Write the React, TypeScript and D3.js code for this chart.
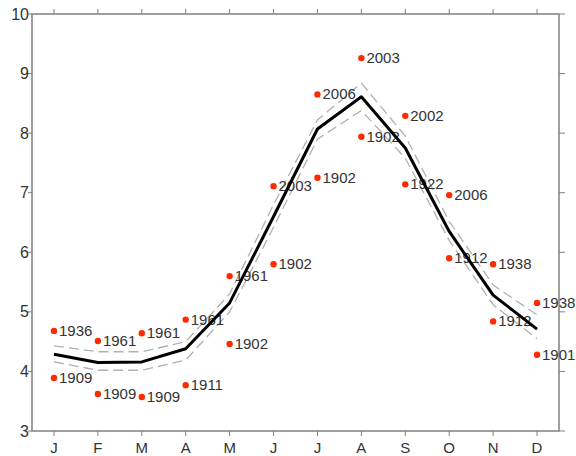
import * as d3 from "d3";

const months = ["J", "F", "M", "A", "M", "J", "J", "A", "S", "O", "N", "D"];
const meanTemp = [4.29, 4.15, 4.16, 4.38, 5.15, 6.6, 8.07, 8.61, 7.75, 6.35, 5.28, 4.71];
const upperBand = [4.43, 4.33, 4.33, 4.5, 5.3, 6.8, 8.22, 8.84, 7.95, 6.52, 5.45, 4.95];
const lowerBand = [4.16, 4.02, 4.02, 4.19, 5.0, 6.42, 7.9, 8.38, 7.58, 6.2, 5.12, 4.55];
const highVals = [4.68, 4.51, 4.64, 4.87, 5.6, 7.11, 8.65, 9.26, 8.29, 6.96, 5.8, 5.15];
const highYears = ["1936", "1961", "1961", "1961", "1961", "2003", "2006", "2003", "2002", "2006", "1938", "1938"];
const lowVals = [3.89, 3.62, 3.57, 3.77, 4.46, 5.8, 7.25, 7.94, 7.14, 5.9, 4.84, 4.28];
const lowYears = ["1909", "1909", "1909", "1911", "1902", "1902", "1902", "1902", "1922", "1912", "1912", "1901"];
const yTicks = [3, 4, 5, 6, 7, 8, 9, 10];

const left = 32;
const right = 559;
const top = 14;
const bottom = 431;

export default function App() {
  const x = d3.scaleLinear().domain([0.5, 12.5]).range([left, right]);
  const y = d3.scaleLinear().domain([3, 10]).range([bottom, top]);
  const line = d3
    .line<number>()
    .x((_, i) => x(i + 1))
    .y((d) => y(d));

  const points = [
    ...highVals.map((v, i) => ({ m: i + 1, v, year: highYears[i] })),
    ...lowVals.map((v, i) => ({ m: i + 1, v, year: lowYears[i] })),
  ];
  const axisColor = "#808080";
  const font = "Liberation Sans, Arial, sans-serif";

  return (
    <svg
      width={576}
      height={456}
      style={{ position: "absolute", left: 0, top: 0, background: "#fff" }}
      fontFamily={font}
    >
      {/* frame */}
      <rect x={left} y={top} width={right - left} height={bottom - top} fill="none" stroke={axisColor} strokeWidth={1.5} />
      {months.map((m, i) => (
        <g key={"x" + i}>
          <line x1={x(i + 1)} x2={x(i + 1)} y1={bottom} y2={bottom + 5} stroke={axisColor} />
          <line x1={x(i + 1)} x2={x(i + 1)} y1={top} y2={top - 5} stroke={axisColor} />
          <text x={x(i + 1)} y={bottom + 22} textAnchor="middle" fontSize={15} fill="#333">
            {m}
          </text>
        </g>
      ))}
      {yTicks.map((t) => (
        <g key={"y" + t}>
          <line x1={left} x2={left - 4} y1={y(t)} y2={y(t)} stroke={axisColor} />
          <line x1={right} x2={right + 6} y1={y(t)} y2={y(t)} stroke={axisColor} />
          <text x={left - 3} y={y(t) + 5.5} textAnchor="end" fontSize={16} fill="#333">
            {t}
          </text>
        </g>
      ))}

      {/* spread band */}
      <path d={line(upperBand) || ""} fill="none" stroke="#b0b0b0" strokeWidth={1.3} strokeDasharray="10,5" />
      <path d={line(lowerBand) || ""} fill="none" stroke="#b0b0b0" strokeWidth={1.3} strokeDasharray="10,5" />

      {/* extremes */}
      {points.map((p, i) => (
        <g key={"p" + i}>
          <circle cx={x(p.m)} cy={y(p.v)} r={3.2} fill="#ff2a00" />
          <text x={x(p.m) + 5} y={y(p.v) + 5} fontSize={15} fill="#333">
            {p.year}
          </text>
        </g>
      ))}

      {/* mean */}
      <path d={line(meanTemp) || ""} fill="none" stroke="#000" strokeWidth={3} strokeLinejoin="round" />
    </svg>
  );
}
